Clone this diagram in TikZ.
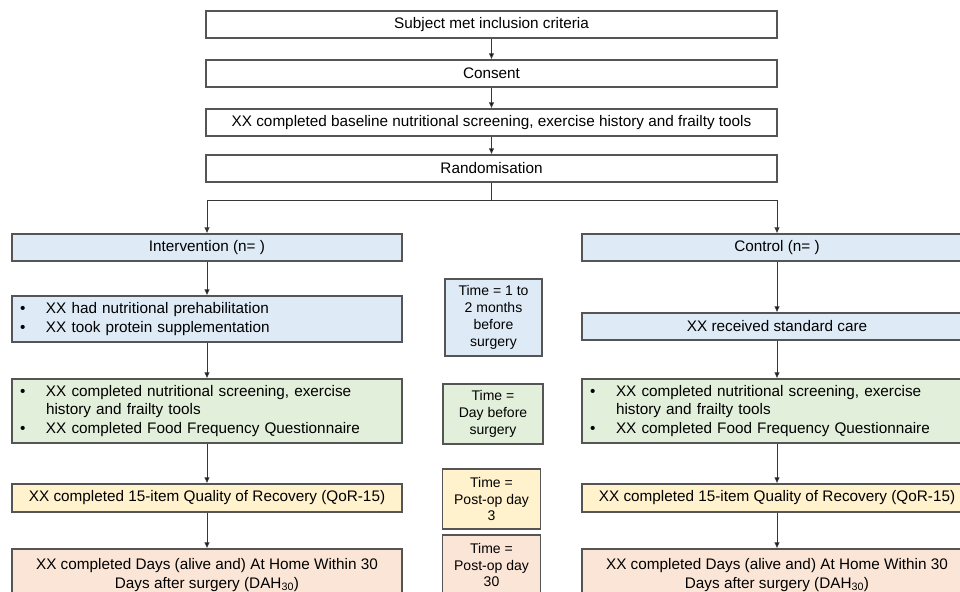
\documentclass[tikz,border=0pt]{standalone}
\usepackage{fontspec}
\setmainfont{Liberation Sans}
\usepackage{tikz}
\usetikzlibrary{arrows.meta}
\usetikzlibrary{positioning}

\definecolor{boxline}{RGB}{85,85,85}
\definecolor{arrowline}{RGB}{55,55,55}
\definecolor{fillblue}{RGB}{222,235,247}
\definecolor{fillgreen}{RGB}{226,239,218}
\definecolor{fillyellow}{RGB}{255,242,204}
\definecolor{fillpeach}{RGB}{251,229,214}

\newcommand{\mainfs}{\fontsize{15.3}{18.6}\selectfont}
\newcommand{\timefs}{\fontsize{14}{16.8}\selectfont}
\newcommand{\bitem}{\makebox[26pt][l]{\textbullet}}
\newcommand{\bcont}{\hspace*{26pt}}

\begin{document}
\begin{tikzpicture}[x=1pt,y=-1pt,
    box/.style={draw=boxline,line width=1.1pt,minimum width=390pt,
        minimum height=27pt,inner sep=0pt,font=\mainfs,align=center},
    topbox/.style={box,fill=white,minimum width=571pt},
    listbox/.style={box,text width=374pt,inner xsep=8pt,align=left},
    timebox/.style={box,minimum width=98pt,minimum height=60pt,font=\timefs},
    flow/.style={draw=arrowline,line width=1pt,-{Latex[length=6pt,width=5.5pt]}}]
\useasboundingbox (0,0) rectangle (960,591);
\clip (0,0) rectangle (960,591);

% common trunk
\node[topbox] (crit) at (491.5,24.5) {Subject met inclusion criteria};
\node[topbox] (consent) at (491.5,73.5) {Consent};
\node[topbox] (baseline) at (491.5,122.5) {XX completed baseline nutritional screening, exercise history and frailty tools};
\node[topbox] (rand) at (491.5,168.5) {Randomisation};
\coordinate (split) at (491.5,200);

% intervention arm
\node[box,fill=fillblue] (interv) at (207,247.5) {Intervention (n= )};
\node[listbox,fill=fillblue,minimum height=46pt] (intprehab) at (207,319) {\bitem XX had nutritional prehabilitation\\
    \bitem XX took protein supplementation};
\node[listbox,fill=fillgreen,minimum height=64pt] (intscreen) at (207,411) {\bitem XX completed nutritional screening, exercise\\
    \bcont history and frailty tools\\
    \bitem XX completed Food Frequency Questionnaire};
\node[box,fill=fillyellow,minimum height=28pt] (intqor) at (207,498) {XX completed 15-item Quality of Recovery (QoR-15)};
\node[box,fill=fillpeach,minimum height=52pt] (intdah) at (207,575) {XX completed Days (alive and) At Home Within 30\\
    Days after surgery (DAH\textsubscript{30})};

% control arm
\node[box,fill=fillblue] (control) at (777,247.5) {Control (n= )};
\node[box,fill=fillblue] (ctlcare) at (777,326.5) {XX received standard care};
\node[listbox,fill=fillgreen,minimum height=64pt] (ctlscreen) at (777,411) {\bitem XX completed nutritional screening, exercise\\
    \bcont history and frailty tools\\
    \bitem XX completed Food Frequency Questionnaire};
\node[box,fill=fillyellow,minimum height=28pt] (ctlqor) at (777,498) {XX completed 15-item Quality of Recovery (QoR-15)};
\node[box,fill=fillpeach,minimum height=52pt] (ctldah) at (777,575) {XX completed Days (alive and) At Home Within 30\\
    Days after surgery (DAH\textsubscript{30})};

% time points
\node[timebox,fill=fillblue,minimum width=97pt,minimum height=77pt] (tprehab) at (493.5,317.5) {Time = 1 to\\ 2 months\\ before\\ surgery};
\node[timebox,fill=fillgreen,minimum width=100pt] (tscreen) at (493,414) {Time =\\ Day before\\ surgery};
\node[timebox,fill=fillyellow] (tqor) at (491.5,499) {Time =\\ Post-op day\\ 3};
\node[timebox,fill=fillpeach] (tdah) at (491.5,565) {Time =\\ Post-op day\\ 30};

\path[flow] (crit) edge (consent)
    (consent) edge (baseline)
    (baseline) edge (rand)
    (interv) edge (intprehab)
    (intprehab) edge (intscreen)
    (intscreen) edge (intqor)
    (intqor) edge (intdah)
    (control) edge (ctlcare)
    (ctlcare) edge (ctlscreen)
    (ctlscreen) edge (ctlqor)
    (ctlqor) edge (ctldah);
\draw[draw=arrowline,line width=1pt] (rand) -- (split);
\draw[flow] (split) -| (interv);
\draw[flow] (split) -| (control);
\end{tikzpicture}
\end{document}
